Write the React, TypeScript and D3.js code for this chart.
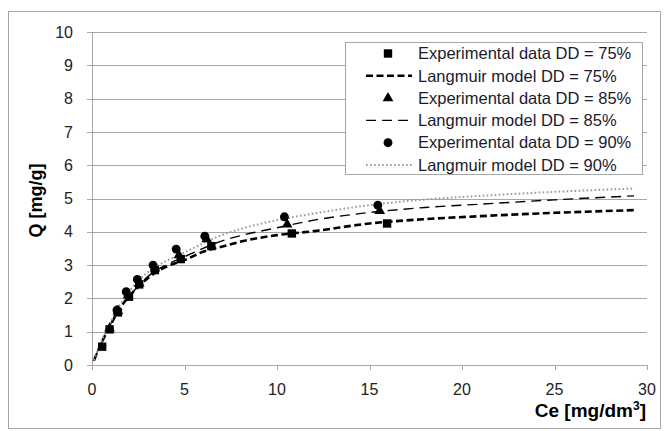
import React from 'react';
import * as d3 from 'd3';

// experimental data, DD = 75% (squares)
const ce75 = [0.55, 0.95, 1.4, 2.0, 2.55, 3.4, 4.8, 6.45, 10.8, 15.95];
const q75 = [0.55, 1.07, 1.58, 2.05, 2.42, 2.85, 3.18, 3.57, 3.95, 4.25];
// experimental data, DD = 85% (triangles)
const ce85 = [0.95, 1.4, 1.95, 2.55, 3.4, 4.7, 6.2, 10.55, 15.55];
const q85 = [1.1, 1.62, 2.1, 2.45, 2.9, 3.3, 3.78, 4.22, 4.63];
// experimental data, DD = 90% (circles)
const ce90 = [1.35, 1.85, 2.45, 3.3, 4.55, 6.1, 10.4, 15.45];
const q90 = [1.65, 2.2, 2.57, 3.0, 3.48, 3.87, 4.45, 4.8];

// Langmuir model curves
const ceModel = [0.1, 0.5, 1, 1.5, 2, 3, 4, 5, 6, 7, 8, 10, 12, 15, 18, 21, 25, 29.3];
const model75 = [0.13, 0.65, 1.2, 1.7, 2.05, 2.6, 2.95, 3.15, 3.4, 3.55, 3.7, 3.9, 4.02, 4.25, 4.38, 4.47, 4.57, 4.65];
const model85 = [0.13, 0.65, 1.22, 1.7, 2.05, 2.65, 3.0, 3.25, 3.5, 3.72, 3.88, 4.12, 4.35, 4.58, 4.73, 4.83, 4.96, 5.08];
const model90 = [0.14, 0.7, 1.28, 1.8, 2.2, 2.78, 3.12, 3.38, 3.65, 3.9, 4.08, 4.35, 4.55, 4.8, 4.97, 5.08, 5.2, 5.3];

const xTicks = [0, 5, 10, 15, 20, 25, 30];
const yTicks = [0, 1, 2, 3, 4, 5, 6, 7, 8, 9, 10];

const legendLabels = [
  'Experimental data DD = 75%',
  'Langmuir model DD = 75%',
  'Experimental data DD = 85%',
  'Langmuir model DD = 85%',
  'Experimental data DD = 90%',
  'Langmuir model DD = 90%',
];

const W = 664;
const H = 431;
const margin = { top: 32, right: 17, bottom: 66, left: 92 };
const font = '"Liberation Sans", Arial, sans-serif';
const gridColor = '#a6a6a6';

const x = d3.scaleLinear().domain([0, 30]).range([margin.left, W - margin.right]);
const y = d3.scaleLinear().domain([0, 10]).range([H - margin.bottom, margin.top]);

const zip = (xs: number[], ys: number[]) => xs.map((v, i) => [v, ys[i]] as [number, number]);

const line = d3.line<[number, number]>()
  .x((d) => x(d[0]))
  .y((d) => y(d[1]))
  .curve(d3.curveMonotoneX);

const modelStyles = [
  { stroke: '#000', width: 2.6, dash: '7,3.5' },
  { stroke: '#000', width: 1.4, dash: '10,6' },
  { stroke: '#999', width: 2, dash: '1.6,2.4' },
];

const squarePath = d3.symbol(d3.symbolSquare, 70)();
const trianglePath = d3.symbol(d3.symbolTriangle, 50)();
const circlePath = d3.symbol(d3.symbolCircle, 62)();

const Marker = ({ kind, cx, cy }: { kind: number; cx: number; cy: number }) => {
  const p = kind === 0 ? squarePath : kind === 1 ? trianglePath : circlePath;
  return <path d={p || ''} transform={`translate(${cx},${cy})`} fill="#000" />;
};

const App = () => {
  const models = [model75, model85, model90];
  const points = [zip(ce75, q75), zip(ce85, q85), zip(ce90, q90)];
  const y0 = y(0);

  // legend placement
  const lg = { x: 345, y: 42, w: 297, h: 132 };
  const rowH = 22.3;

  return (
    <div style={{ position: 'absolute', left: 0, top: 0 }}>
      <svg width={W} height={H} style={{ display: 'block', background: '#fff' }}>
        <rect x={8.5} y={11.5} width={652} height={417} fill="#fff" stroke={gridColor} />

        {/* horizontal gridlines */}
        {yTicks.map((t) => (
          <line key={'g' + t} x1={x(0)} x2={x(30)} y1={Math.round(y(t)) + 0.5} y2={Math.round(y(t)) + 0.5}
            stroke={gridColor} strokeWidth={1} />
        ))}
        {/* y axis */}
        <line x1={x(0) + 0.5} x2={x(0) + 0.5} y1={y(10)} y2={y0} stroke={gridColor} />
        {yTicks.map((t) => (
          <g key={'yt' + t}>
            <line x1={x(0) - 5} x2={x(0)} y1={Math.round(y(t)) + 0.5} y2={Math.round(y(t)) + 0.5} stroke={gridColor} />
            <text x={x(0) - 19} y={y(t)} dy="0.35em" textAnchor="end" fontFamily={font} fontSize={16} fill="#222">{t}</text>
          </g>
        ))}
        {/* x axis ticks */}
        {xTicks.map((t) => (
          <g key={'xt' + t}>
            <line x1={Math.round(x(t)) + 0.5} x2={Math.round(x(t)) + 0.5} y1={y0} y2={y0 + 5} stroke={gridColor} />
            <text x={x(t)} y={y0 + 24} dy="0.35em" textAnchor="middle" fontFamily={font} fontSize={16} fill="#222">{t}</text>
          </g>
        ))}

        {/* model curves */}
        {models.map((m, i) => (
          <path key={'m' + i} d={line(zip(ceModel, m)) || ''} fill="none"
            stroke={modelStyles[i].stroke} strokeWidth={modelStyles[i].width} strokeDasharray={modelStyles[i].dash} />
        ))}

        {/* experimental points */}
        {points.map((pts, i) => pts.map((d, j) => (
          <Marker key={`p${i}-${j}`} kind={i} cx={x(d[0])} cy={y(d[1])} />
        )))}

        {/* axis titles */}
        <text transform={`translate(42,${(y(0) + y(10)) / 2 + 2}) rotate(-90)`} textAnchor="middle"
          fontFamily={font} fontSize={18} fontWeight="bold" fill="#000">Q [mg/g]</text>
        <text x={646} y={417} textAnchor="end" fontFamily={font} fontSize={19} fontWeight="bold" fill="#000">
          Ce [mg/dm<tspan dy={-7} fontSize={12}>3</tspan><tspan dy={7}>]</tspan>
        </text>

        {/* legend */}
        <rect x={lg.x + 0.5} y={lg.y + 0.5} width={lg.w} height={lg.h} fill="#fff" stroke={gridColor} />
        {legendLabels.map((lab, i) => {
          const cy = lg.y + 11.5 + i * rowH;
          const series = Math.floor(i / 2);
          const isLine = i % 2 === 1;
          return (
            <g key={'l' + i}>
              {isLine ? (
                <line x1={366} x2={412} y1={cy} y2={cy} stroke={modelStyles[series].stroke}
                  strokeWidth={modelStyles[series].width} strokeDasharray={modelStyles[series].dash} />
              ) : (
                <Marker kind={series} cx={388} cy={cy} />
              )}
              <text x={418} y={cy} dy="0.35em" fontFamily={font} fontSize={16.5} fill="#1a1a2e">{lab}</text>
            </g>
          );
        })}
      </svg>
    </div>
  );
};

export default App;
